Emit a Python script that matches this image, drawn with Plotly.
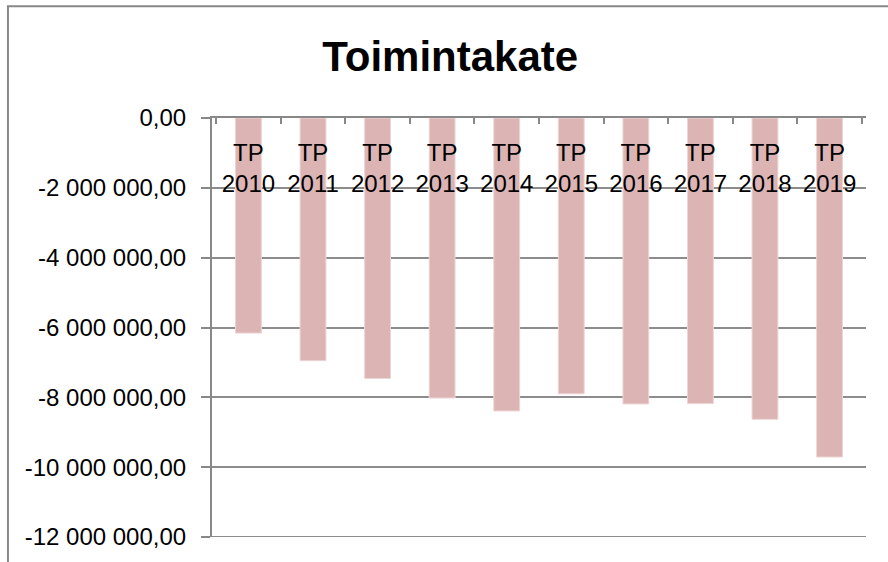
import plotly.graph_objects as go

# Toimintakate per tilinpäätösvuosi (euroa)
YEARS  = ['2010', '2011', '2012', '2013', '2014', '2015', '2016', '2017', '2018', '2019']
VALUES = [-6160000, -6950000, -7460000, -8020000, -8390000,
          -7900000, -8190000, -8180000, -8630000, -9710000]
Y_TICKS = [0, -2000000, -4000000, -6000000, -8000000, -10000000, -12000000]
Y_TICK_TEXT = ['0,00', '-2 000 000,00', '-4 000 000,00', '-6 000 000,00',
               '-8 000 000,00', '-10 000 000,00', '-12 000 000,00']

labels = ['TP<br>' + y for y in YEARS]

fig = go.Figure()
fig.add_trace(go.Bar(
    x=labels, y=VALUES,
    marker=dict(color='#DDB4B4', line=dict(color='#EDD5D5', width=1)),
))
# invisible copy on a second x axis, only to carry the category labels
# just under the zero line (like Excel does)
fig.add_trace(go.Scatter(
    x=labels, y=VALUES, xaxis='x2', mode='markers',
    marker=dict(opacity=0), hoverinfo='skip',
))

fig.update_layout(
    width=888, height=562,
    margin=dict(l=212, r=22, t=118, b=25),
    paper_bgcolor='white', plot_bgcolor='white',
    bargap=0.6, showlegend=False,
    font=dict(family='Liberation Sans, Arial, sans-serif', color='black'),
    title=dict(text='<b>Toimintakate</b>', x=0.507, xanchor='center',
               y=0.9, yanchor='middle', yref='container',
               font=dict(size=42, color='black')),
    xaxis=dict(
        side='top', tickson='boundaries', showticklabels=False,
        ticks='inside', ticklen=6, tickcolor='#888888', tickwidth=2,
        showline=True, linecolor='#888888', linewidth=2, showgrid=False,
    ),
    xaxis2=dict(
        overlaying='x', matches='x', anchor='free', position=1, side='bottom',
        showline=False, ticks='', showgrid=False, ticklabelstandoff=18,
        tickfont=dict(size=24, color='black'),
    ),
    yaxis=dict(
        range=[Y_TICKS[-1], 0], tickvals=Y_TICKS, ticktext=Y_TICK_TEXT,
        ticks='outside', ticklen=9, tickcolor='#888888', tickwidth=2,
        showline=True, linecolor='#888888', linewidth=2,
        showgrid=True, gridcolor='#8C8C8C', gridwidth=2,
        zeroline=False, tickfont=dict(size=24, color='black'),
        ticklabelstandoff=10,
    ),
)

# bottom gridline (plotly drops the grid line sitting on the plot edge)
fig.add_shape(type='line', xref='paper', yref='y', x0=0, x1=1,
              y0=Y_TICKS[-1], y1=Y_TICKS[-1],
              line=dict(color='#8C8C8C', width=2), layer='below')

# chart border (cut off on the right and bottom like the original)
fig.add_shape(type='rect', xref='paper', yref='paper',
              x0=-0.312, x1=1.04, y0=-0.08, y1=1.267,
              line=dict(color='#888888', width=2), layer='below')

fig.write_html("out.html", config={'displayModeBar': False},
               post_script="document.body.style.margin='0px';")
